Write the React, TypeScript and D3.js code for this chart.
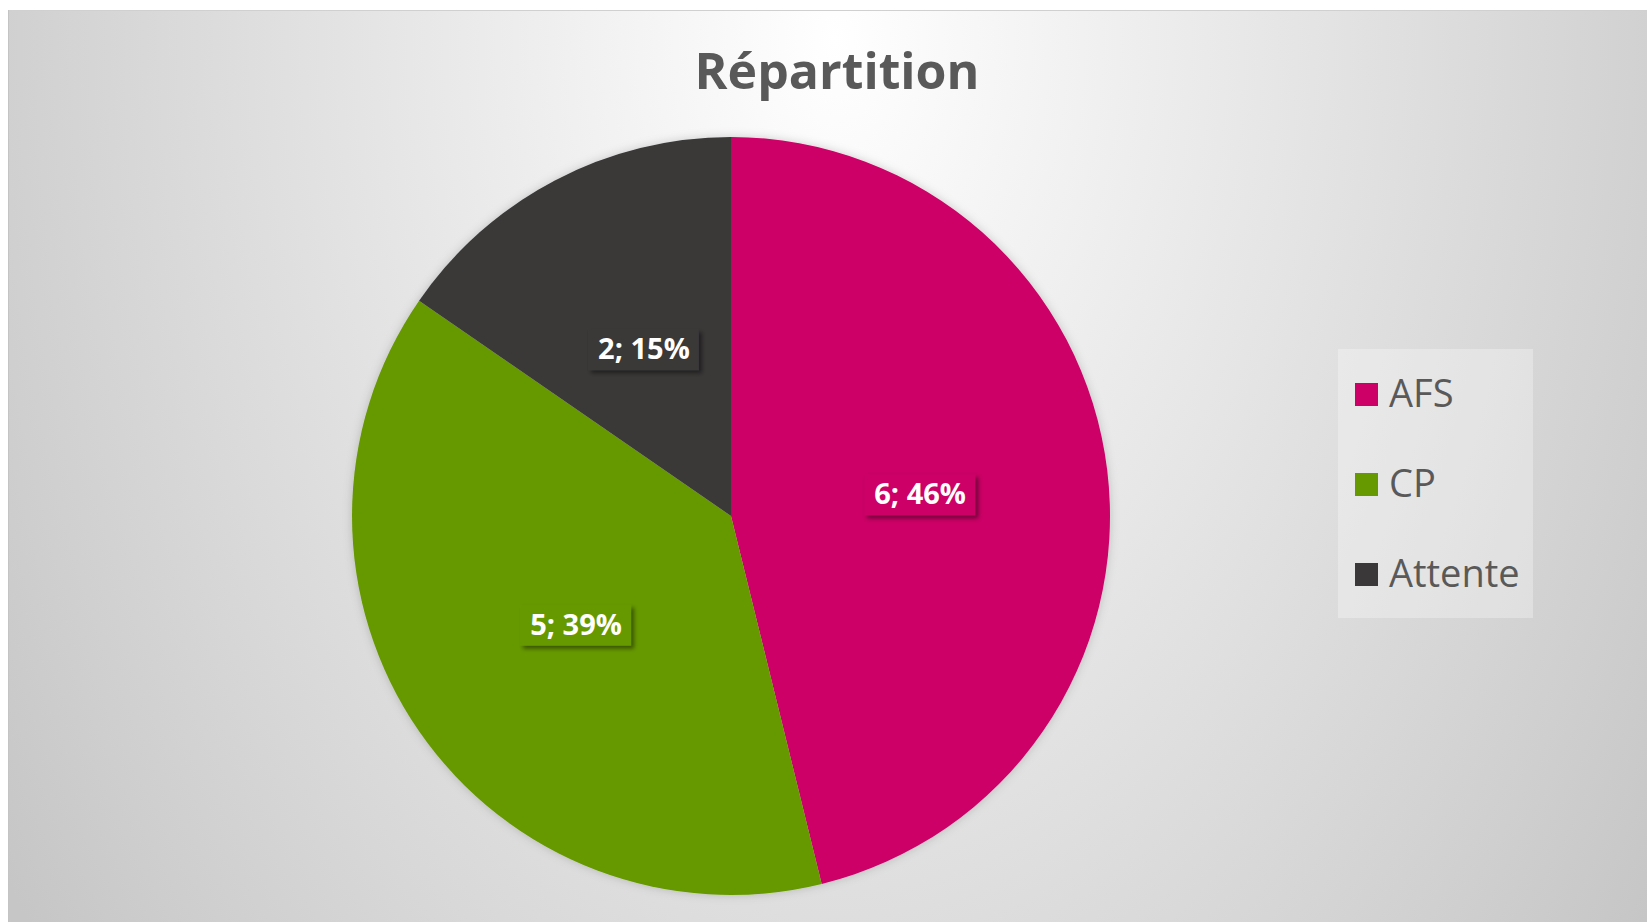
import React from "react";
import * as d3 from "d3";

const categories = ["AFS", "CP", "Attente"];
const values = [6, 5, 2];
const colors = ["#CC0066", "#669900", "#3A3839"];
const title = "Répartition";

const W = 1647;
const H = 922;
const cx = 731;
const cy = 516;
const radius = 379;

// percentages that add up to 100, like Excel does it
const roundPercents = (vals: number[]) => {
  const total = d3.sum(vals);
  const raw = vals.map(v => (v / total) * 100);
  const out = raw.map(Math.floor);
  let rest = 100 - d3.sum(out);
  const order = raw
    .map((r, i) => ({ i, frac: r - Math.floor(r) }))
    .sort((a, b) => b.frac - a.frac);
  for (let k = 0; k < rest; k++) out[order[k].i] += 1;
  return out;
};

const App = () => {
  const pie = d3
    .pie<number>()
    .sort(null)
    .value(d => d);
  const arcs = pie(values);
  const arc = d3
    .arc<d3.PieArcDatum<number>>()
    .innerRadius(0)
    .outerRadius(radius);
  const percents = roundPercents(values);

  const legendY = d3
    .scalePoint<string>()
    .domain(categories)
    .range([394, 574]);

  const font = "'Open Sans', 'DejaVu Sans', sans-serif";

  return (
    <svg
      width={W}
      height={H}
      viewBox={`0 0 ${W} ${H}`}
      style={{ position: "absolute", left: 0, top: 0 }}
    >
      <defs>
        <radialGradient
          id="bg"
          gradientUnits="userSpaceOnUse"
          cx={835}
          cy={40}
          r={1000}
          gradientTransform="translate(835 40) scale(1 1.5) translate(-835 -40)"
        >
          <stop offset="0" stopColor="#ffffff" />
          <stop offset="0.85" stopColor="#cfcfcf" />
          <stop offset="1" stopColor="#c6c6c6" />
        </radialGradient>
        <filter id="pieShadow" x="-10%" y="-10%" width="120%" height="120%">
          <feDropShadow dx="0" dy="0" stdDeviation="5" floodColor="#000" floodOpacity="0.18" />
        </filter>
        <filter id="labelShadow" x="-20%" y="-30%" width="150%" height="170%">
          <feDropShadow dx="3" dy="3" stdDeviation="2" floodColor="#000" floodOpacity="0.45" />
        </filter>
      </defs>

      <rect x={8} y={10} width={W - 8} height={H - 10} fill="url(#bg)" />
      <line x1={8} x2={W} y1={10.5} y2={10.5} stroke="#d0d0d0" />
      <line x1={8.5} x2={8.5} y1={10} y2={H} stroke="#c4c4c4" />

      <text
        x={837}
        y={89}
        textAnchor="middle"
        fontFamily={font}
        fontWeight="bold"
        fontSize={50}
        fill="#595959"
      >
        {title}
      </text>

      <g transform={`translate(${cx},${cy})`}>
        <g filter="url(#pieShadow)">
          {arcs.map((a, i) => (
            <path key={categories[i]} d={arc(a) || ""} fill={colors[i]} />
          ))}
        </g>
        {arcs.map((a, i) => {
          const [lx, ly] = arc.centroid(a);
          return (
            <g key={"lab" + i} transform={`translate(${lx},${ly})`}>
              <rect
                x={-55}
                y={-19}
                width={111}
                height={41}
                fill={colors[i]}
                filter="url(#labelShadow)"
              />
              <text
                x={1}
                y={11}
                textAnchor="middle"
                fontFamily={font}
                fontWeight="bold"
                fontSize={29}
                fill="#ffffff"
              >
                {`${values[i]}; ${percents[i]}%`}
              </text>
            </g>
          );
        })}
      </g>

      <rect x={1338} y={349} width={195} height={269} fill="#ffffff" opacity={0.3} />
      {categories.map((c, i) => (
        <g key={"leg" + c} transform={`translate(1355,${legendY(c)})`}>
          <rect x={0} y={-11} width={23} height={23} fill={colors[i]} />
          <text
            x={34}
            y={13}
            fontFamily={font}
            fontSize={38}
            fill="#595959"
          >
            {c}
          </text>
        </g>
      ))}
    </svg>
  );
};

export default App;
